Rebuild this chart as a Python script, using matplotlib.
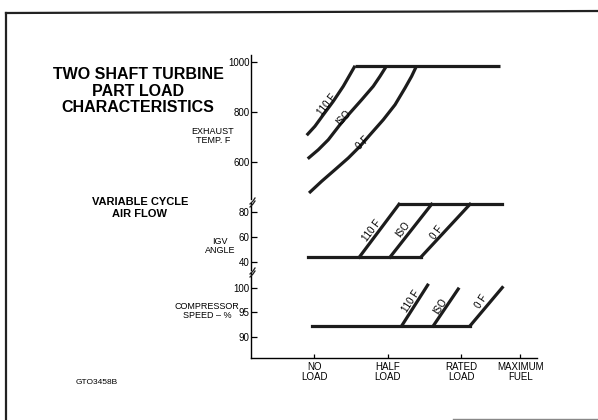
import matplotlib
matplotlib.use("Agg")
import matplotlib.pyplot as plt
from matplotlib.lines import Line2D

plt.rcParams['font.family'] = ['Liberation Sans', 'DejaVu Sans']

# x positions (percent of rated load)
load_ticks = [0, 50, 100, 140]
load_labels = ['NO\nLOAD', 'HALF\nLOAD', 'RATED\nLOAD', 'MAXIMUM\nFUEL']

# exhaust temperature curves (F)
exh_110_x = [-5.3, 0.3, 6.0, 12.8, 19.6, 24.1, 27.6]
exh_110_y = [708, 744, 790, 844, 904, 950, 986]
exh_iso_x = [-4.6, 2.6, 9.4, 17.3, 24.1, 32.1, 40.0, 44.6, 49.1]
exh_iso_y = [614, 650, 690, 750, 797, 850, 904, 944, 986]
exh_0_x = [-3.7, 4.9, 13.9, 23.0, 31.0, 37.8, 46.8, 54.8, 61.6, 66.1, 69.5]
exh_0_y = [477, 524, 570, 617, 664, 710, 770, 830, 897, 944, 986]
exh_top_x = [27.6, 126.2]
exh_top_y = [986, 986]

# IGV angle
igv_low_x = [-4.2, 72.4]
igv_low_y = [44, 44]
igv_high_x = [57.5, 127.8]
igv_high_y = [86, 86]
igv_110_x = [30.5, 57.5]
igv_iso_x = [51.4, 79.7]
igv_0_x = [72.4, 105.8]
igv_ramp_y = [44, 86]

# compressor speed %
comp_base_x = [-1.9, 105.8]
comp_base_y = [92.2, 92.2]
comp_110_x = [59.3, 77.0]
comp_110_y = [92.2, 100.6]
comp_iso_x = [80.8, 97.8]
comp_iso_y = [92.2, 99.8]
comp_0_x = [105.8, 127.8]
comp_0_y = [92.2, 100.1]

W, H = 598, 420
fig = plt.figure(figsize=(W / 100, H / 100), dpi=100)

def px_box(top, bottom, left=251, right=537):
    return [left / W, 1 - bottom / H, (right - left) / W, (bottom - top) / H]

xlim = (-43.2, 151.4)
lc = '#1c1c1c'
lw = 2.3

ax1 = fig.add_axes(px_box(55, 199))
ax2 = fig.add_axes(px_box(203, 270))
ax3 = fig.add_axes(px_box(272, 358))

for ax in (ax1, ax2, ax3):
    ax.set_xlim(*xlim)
    ax.patch.set_alpha(0)
    for s in ('top', 'right', 'bottom'):
        ax.spines[s].set_visible(False)
    ax.spines['left'].set_linewidth(1.0)
    ax.tick_params(axis='y', direction='in', length=4, width=0.9, labelsize=7, pad=1)
    ax.set_xticks([])

ax3.spines['bottom'].set_visible(True)
ax3.spines['bottom'].set_linewidth(1.0)
ax3.set_xticks(load_ticks)
ax3.set_xticklabels(load_labels, fontsize=7, linespacing=1.0)
ax3.tick_params(axis='x', direction='in', length=3, width=0.9, pad=3)

# exhaust temperature
ax1.set_ylim(453, 1029)
ax1.set_yticks([600, 800, 1000])
for xs, ys in ((exh_110_x, exh_110_y), (exh_iso_x, exh_iso_y), (exh_0_x, exh_0_y), (exh_top_x, exh_top_y)):
    ax1.plot(xs, ys, color=lc, lw=lw, solid_capstyle='butt', solid_joinstyle='round', clip_on=False)
ax1.text(8.3, 830, '110 F', rotation=52, fontsize=7, ha='center', va='center', rotation_mode='anchor')
ax1.text(19.6, 777, 'ISO', rotation=48, fontsize=7, ha='center', va='center', rotation_mode='anchor')
ax1.text(33.2, 677, '0 F', rotation=45, fontsize=7, ha='center', va='center', rotation_mode='anchor')

# IGV angle
ax2.set_ylim(33.8, 87)
ax2.set_yticks([40, 60, 80])
ax2.plot(igv_low_x, igv_low_y, color=lc, lw=lw, clip_on=False)
ax2.plot(igv_high_x, igv_high_y, color=lc, lw=lw, clip_on=False)
for xs in (igv_110_x, igv_iso_x, igv_0_x):
    ax2.plot(xs, igv_ramp_y, color=lc, lw=lw, clip_on=False)
ax2.text(38.9, 65.4, '110 F', rotation=53, fontsize=7, ha='center', va='center', rotation_mode='anchor')
ax2.text(60.4, 66, 'ISO', rotation=53, fontsize=7, ha='center', va='center', rotation_mode='anchor')
ax2.text(83.1, 63.2, '0 F', rotation=53, fontsize=7, ha='center', va='center', rotation_mode='anchor')

# compressor speed
ax3.set_ylim(85.6, 103.3)
ax3.set_yticks([90, 95, 100])
ax3.plot(comp_base_x, comp_base_y, color=lc, lw=lw, clip_on=False)
for xs, ys in ((comp_110_x, comp_110_y), (comp_iso_x, comp_iso_y), (comp_0_x, comp_0_y)):
    ax3.plot(xs, ys, color=lc, lw=lw, clip_on=False)
ax3.text(65.4, 97.2, '110 F', rotation=57, fontsize=7, ha='center', va='center', rotation_mode='anchor')
ax3.text(85.8, 96.3, 'ISO', rotation=57, fontsize=7, ha='center', va='center', rotation_mode='anchor')
ax3.text(113.7, 97.2, '0 F', rotation=57, fontsize=7, ha='center', va='center', rotation_mode='anchor')

# axis break marks
def fx(x):
    return x / W

def fy(y):
    return 1 - y / H

for yb in (201, 271):
    fig.add_artist(Line2D([fx(250), fx(253), fx(255)], [fy(yb + 3), fy(yb), fy(yb - 3)],
                          color=lc, lw=0.9))
    fig.add_artist(Line2D([fx(250), fx(253), fx(255)], [fy(yb + 6), fy(yb + 3), fy(yb)],
                          color=lc, lw=0.9))

# titles and axis labels
fig.text(fx(138), fy(91), 'TWO SHAFT TURBINE\nPART LOAD\nCHARACTERISTICS', fontsize=11.5,
         fontweight='bold', ha='center', va='center', linespacing=1.15)
fig.text(fx(140), fy(208), 'VARIABLE CYCLE\nAIR FLOW', fontsize=8, fontweight='bold',
         ha='center', va='center', linespacing=1.15)
fig.text(fx(213), fy(136), 'EXHAUST\nTEMP. F', fontsize=6.5, ha='center', va='center', linespacing=1.0)
fig.text(fx(220), fy(246), 'IGV\nANGLE', fontsize=6.5, ha='center', va='center', linespacing=1.0)
fig.text(fx(207), fy(311), 'COMPRESSOR\nSPEED \u2013 %', fontsize=6.5, ha='center', va='center', linespacing=1.0)
fig.text(fx(76), fy(383), 'GTO3458B', fontsize=6, ha='left', va='center')

# page border
fig.add_artist(Line2D([fx(6), fx(6)], [fy(13), fy(420)], color='#222222', lw=1.6))
fig.add_artist(Line2D([fx(6), fx(598)], [fy(13), fy(11)], color='#222222', lw=1.6))
fig.add_artist(Line2D([fx(453), fx(598)], [fy(418.5), fy(418.5)], color='#888888', lw=1.0))

fig.savefig('out.png', dpi=100)
